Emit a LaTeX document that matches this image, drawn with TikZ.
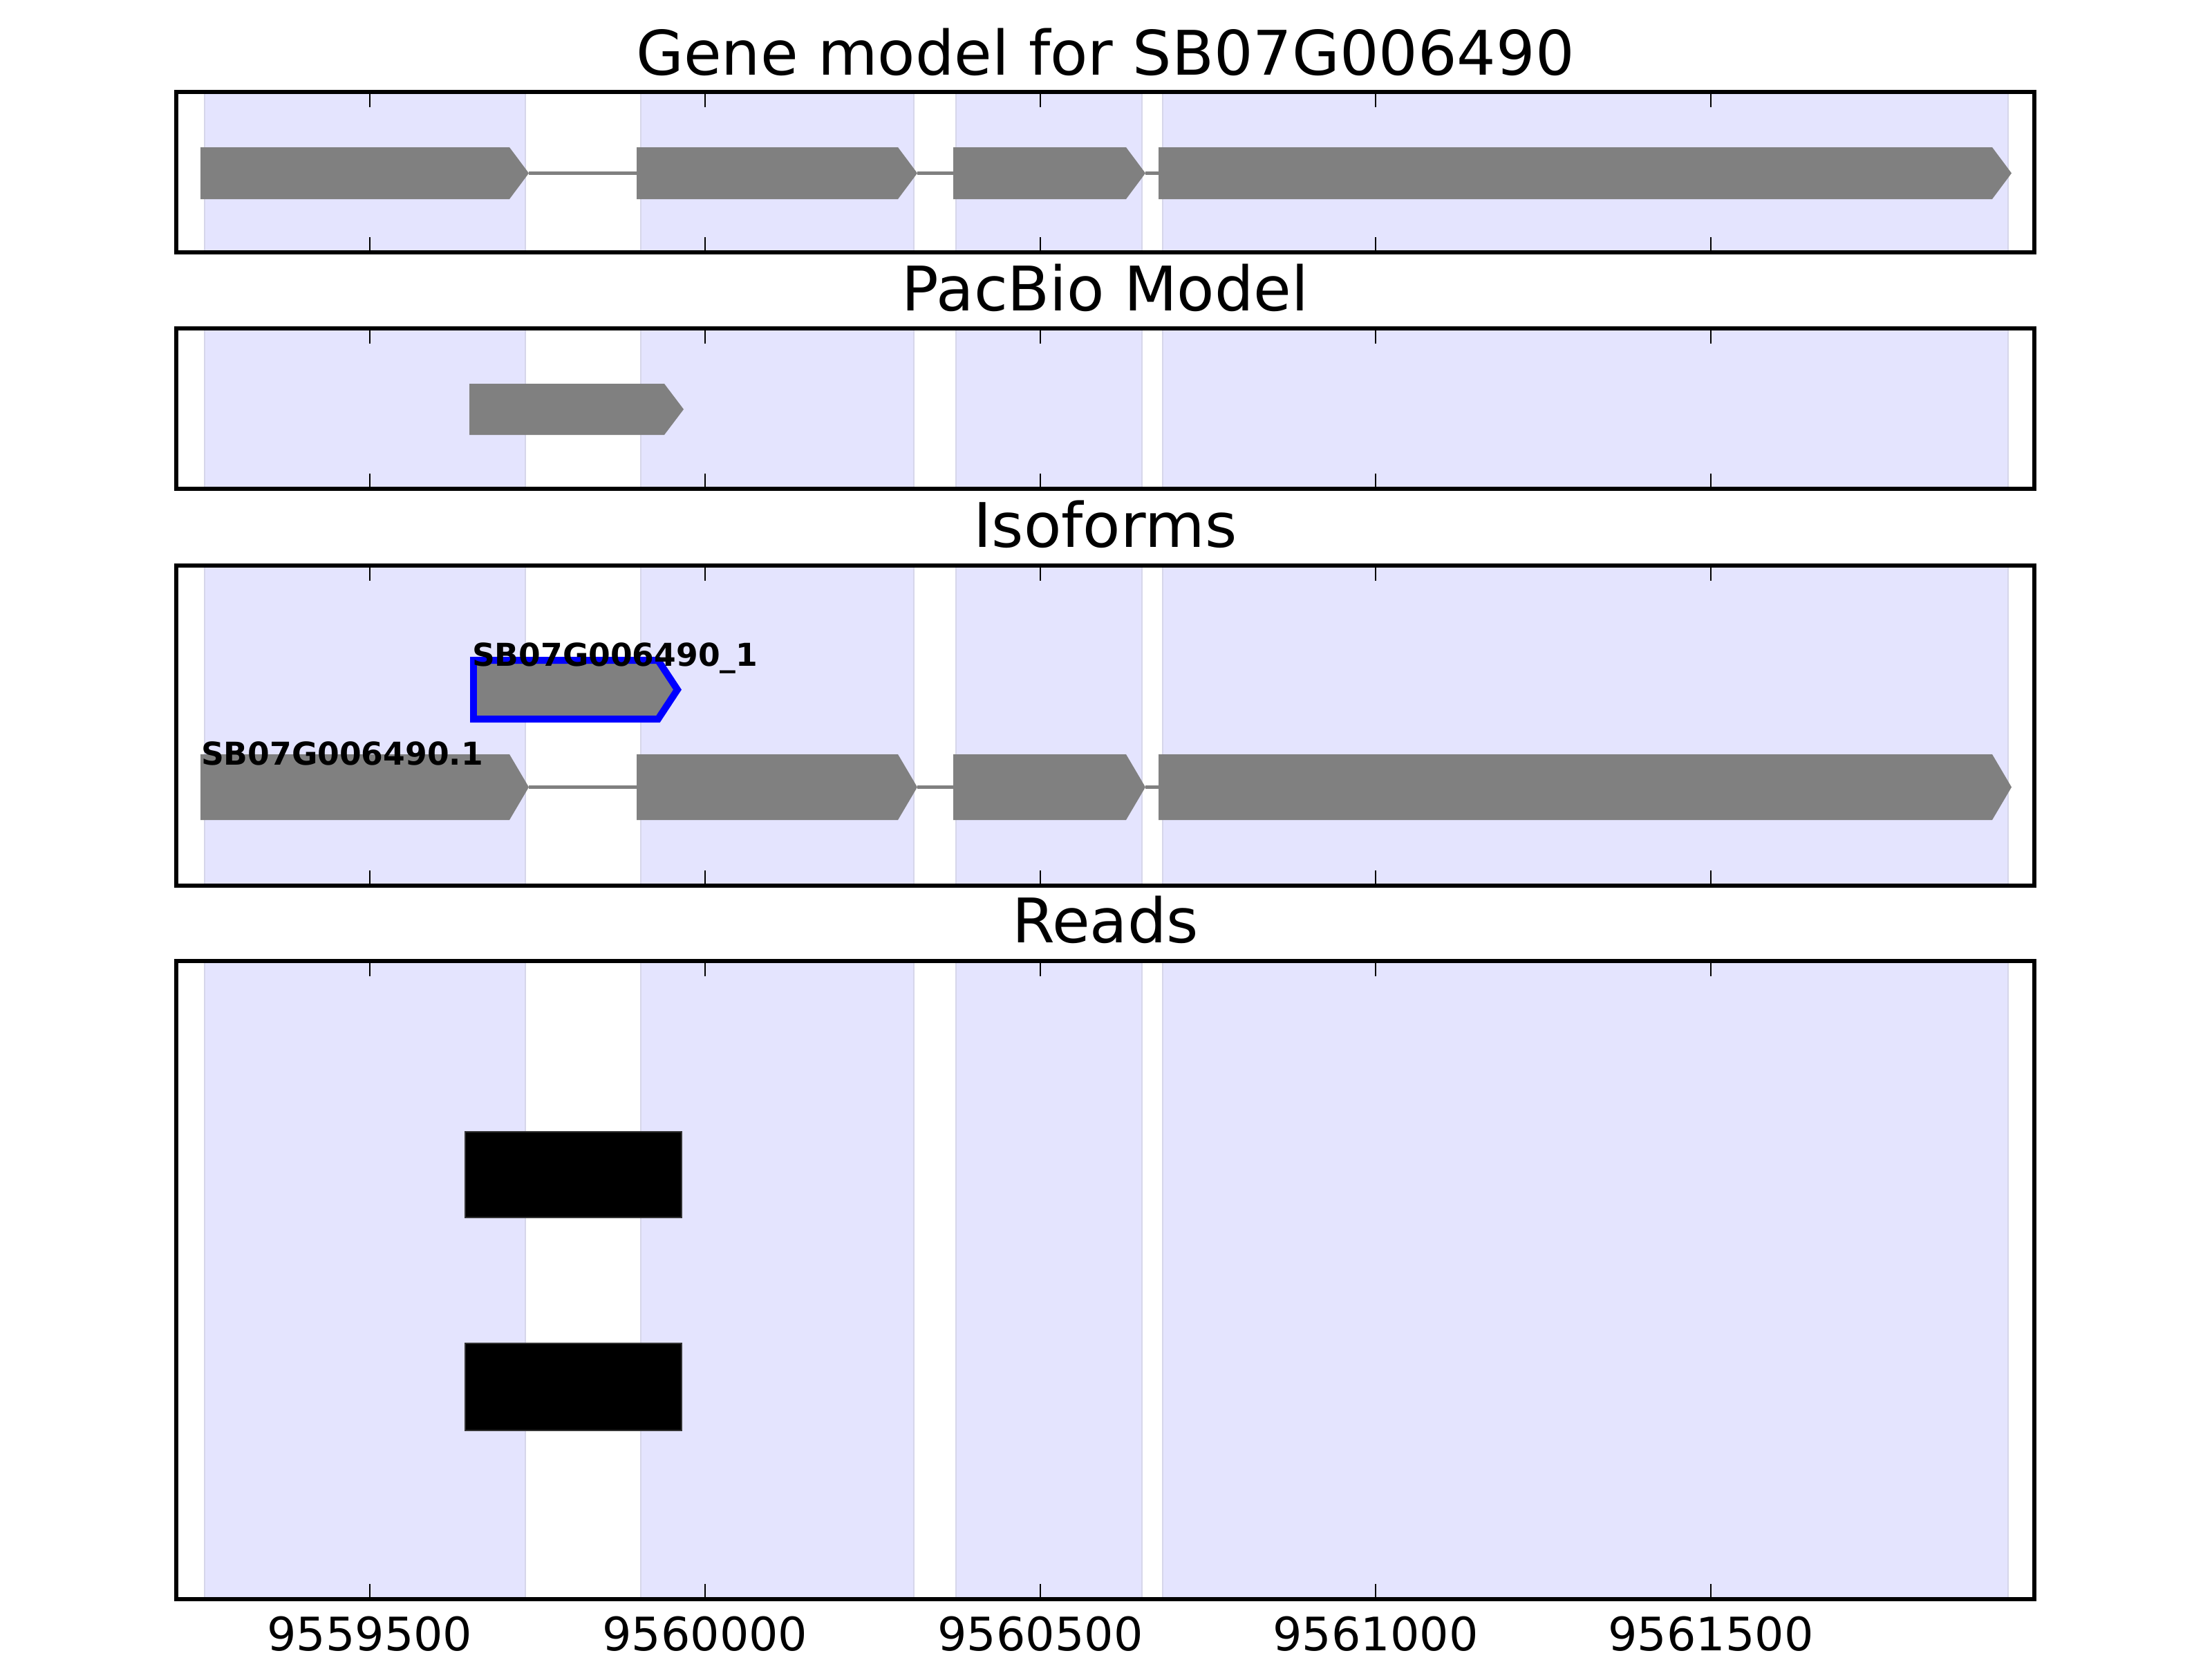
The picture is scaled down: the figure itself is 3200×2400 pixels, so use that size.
\documentclass[tikz,border=0pt]{standalone}
\usepackage{fontspec}
\setmainfont{DejaVu Sans}

\definecolor{spanblue}{RGB}{228,228,254}
\definecolor{spanedge}{RGB}{214,214,234}
\definecolor{exongray}{RGB}{128,128,128}

% exon arrow: [style]{start}{tip}{y centre}{half height}
\newcommand{\exonarrow}[5][exon]{%
  \path[#1] (#2,#4-#5) -- (#3-28,#4-#5) -- (#3,#4) -- (#3-28,#4+#5) -- (#2,#4+#5) -- cycle;}

\begin{document}
\begin{tikzpicture}[x=0.00635cm, y=-0.00635cm,
  axisframe/.style={draw=black, line width=1pt},
  exonspan/.style={fill=spanblue, draw=spanedge, line width=0.4pt},
  exon/.style={fill=exongray},
  intron/.style={draw=exongray, line width=1pt},
  isoform/.style={fill=exongray, draw=blue, line width=1.8pt},
  readbar/.style={fill=black, draw=black!80, line width=0.3pt},
  tickmark/.style={line width=0.5pt},
  paneltitle/.style={font=\fontsize{16bp}{19bp}\selectfont, anchor=base, inner sep=0pt},
  ticklabel/.style={font=\fontsize{12bp}{14bp}\selectfont, anchor=base, inner sep=0pt},
  isolabel/.style={font=\fontsize{8.2bp}{10bp}\selectfont\bfseries, anchor=base west, inner sep=0pt}]
\useasboundingbox (0,0) rectangle (3200,2400);

% panels with exon spans, frame and ticks
\foreach \p/\top/\bot in {gene/133/365, pacbio/475/707, iso/818/1281, reads/1390/2313}{
  \foreach \a/\b in {296/760, 927/1322, 1383/1652, 1682/2905}
    \path[exonspan] (\a,\top) rectangle (\b,\bot);
  \draw[axisframe] (255,\top) coordinate (\p-nw) rectangle (2943,\bot) coordinate (\p-se);
  \foreach \t in {535,1020,1505,1990,2475}
    \draw[tickmark] (\t,\top) -- ++(0,22) (\t,\bot) -- ++(0,-22);
}

\node[paneltitle] (genetitle) at (1599,108) {Gene model for SB07G006490};
\node[paneltitle] (pacbiotitle) at (1599,449) {PacBio Model};
\node[paneltitle] (isotitle) at (1599,791) {Isoforms};
\node[paneltitle] (readstitle) at (1599,1363) {Reads};

\foreach \t/\lab in {535/9559500, 1020/9560000, 1505/9560500, 1990/9561000, 2475/9561500}
  \node[ticklabel] (tick\lab) at (\t,2387) {\lab};

% gene model, top panel and isoform panel
\foreach \yc/\hh in {250.5/37.5, 1138.5/47.5}{
  \foreach \a/\b in {290/765, 921/1327, 1379/1657, 1676/2910}
    \exonarrow{\a}{\b}{\yc}{\hh}
  \draw[intron] (765,\yc) -- (921,\yc) (1327,\yc) -- (1379,\yc) (1657,\yc) -- (1676,\yc);
}

% pacbio model
\exonarrow{679}{989}{592}{37}

% isoform
\exonarrow[isoform]{685}{980}{997.5}{42.5}
\node[isolabel] (isoname) at (682,963) {SB07G006490\_1};
\node[isolabel] (genename) at (290,1106) {SB07G006490.1};

% reads
\path[readbar] (673,1637) rectangle (986,1761);
\path[readbar] (673,1943) rectangle (986,2069);
\end{tikzpicture}
\end{document}
